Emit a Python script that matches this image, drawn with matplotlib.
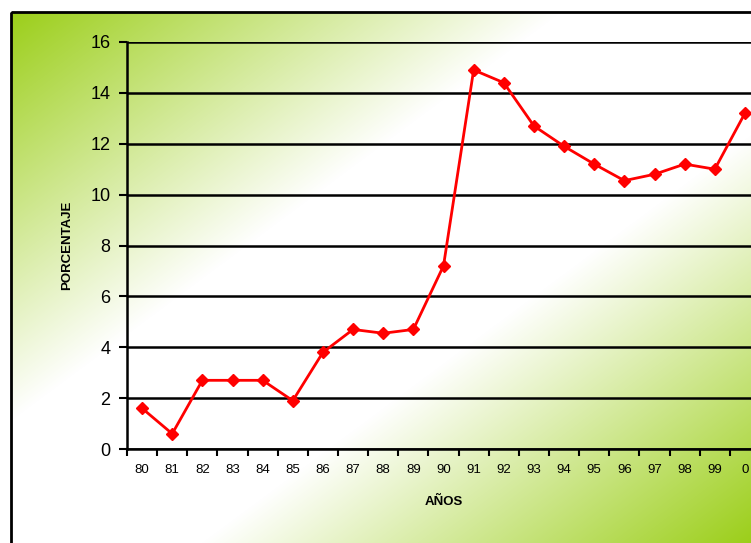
import numpy as np
import matplotlib.pyplot as plt
from matplotlib.patches import Rectangle

plt.rcParams['font.family'] = ['Liberation Sans', 'DejaVu Sans']

years = ["80", "81", "82", "83", "84", "85", "86", "87", "88", "89",
         "90", "91", "92", "93", "94", "95", "96", "97", "98", "99", "0"]
porcentaje = [1.6, 0.6, 2.7, 2.7, 2.7, 1.9, 3.8, 4.7, 4.55, 4.7,
              7.2, 14.9, 14.4, 12.7, 11.9, 11.2, 10.55, 10.8, 11.2, 11.0, 13.2]

W, H = 751, 543
fig = plt.figure(figsize=(W / 100, H / 100), dpi=100)

# background: diagonal green-white-green gradient inside a black frame
bg = fig.add_axes([0, 0, 1, 1])
bg.set_xlim(0, W)
bg.set_ylim(H, 0)
bg.axis("off")
xx, yy = np.meshgrid(np.arange(W), np.arange(H))
u = (xx - 11) / 727
v = (yy - 12) / 540
w = 0.244
g = np.clip((np.abs(u + v - 1) - w) / (1 - w), 0, 1)
green = np.array([0.61, 0.81, 0.10])
img = 1 - g[..., None] * (1 - green)
mask = (xx < 11) | (yy < 12)
img[mask] = 1.0
bg.imshow(img, extent=(0, W, H, 0), aspect="auto", interpolation="bilinear")
bg.add_patch(Rectangle((11, 12), W + 20, H + 20, fill=False, lw=2, ec="black"))

ax = fig.add_axes([127 / W, (H - 449) / H, 633 / W, 407 / H])
ax.patch.set_alpha(0)
x = np.arange(len(years))
ax.plot(x, porcentaje, color="#ff0000", lw=2, marker="D", ms=6.5,
        mfc="#ff0000", mec="#ff0000", zorder=3, clip_on=False)

ax.set_xlim(-0.5, len(years) - 0.5)
ax.set_ylim(0, 16)
ax.set_yticks(np.arange(0, 17, 2))
ax.yaxis.grid(True, color="black", lw=1.8)
ax.set_axisbelow(True)
ax.set_xticks(x)
ax.set_xticklabels(years, fontsize=9.5)
ax.set_xticks(np.arange(-0.5, len(years), 1), minor=True)
ax.tick_params(axis="x", which="major", length=0, pad=11)
ax.tick_params(axis="x", which="minor", length=5, width=1.5, color="black")
ax.tick_params(axis="y", labelsize=13, length=6, width=1.5, pad=6)
for side in ["top", "right"]:
    ax.spines[side].set_visible(False)
for side in ["left", "bottom"]:
    ax.spines[side].set_linewidth(1.8)

ax.set_xlabel("AÑOS", fontsize=9.5, fontweight="bold", labelpad=14)
ax.set_ylabel("PORCENTAJE", fontsize=9.5, fontweight="bold", labelpad=12)

fig.savefig("out.png", dpi=100)
